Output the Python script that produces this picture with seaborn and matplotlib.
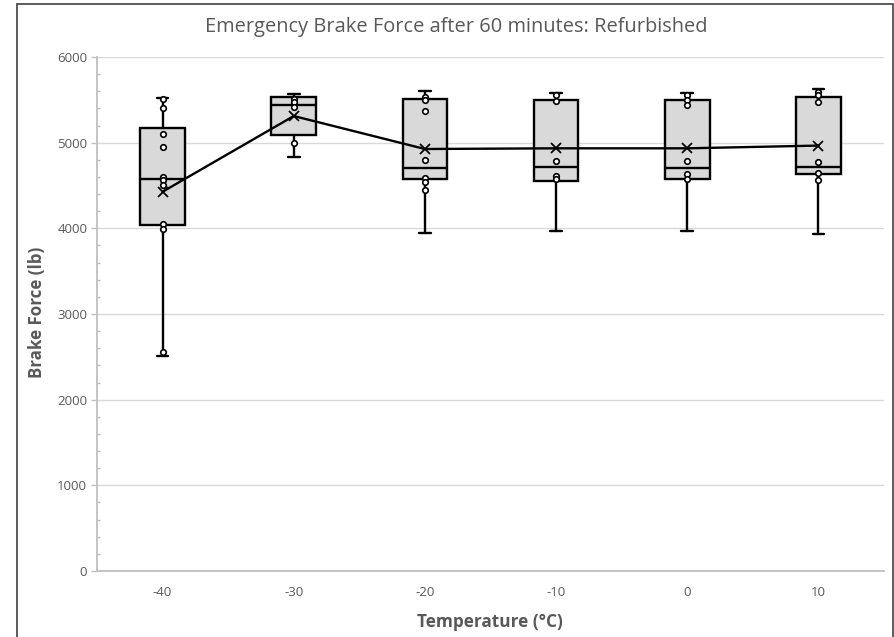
import numpy as np
import pandas as pd
import matplotlib
matplotlib.use("Agg")
import matplotlib.pyplot as plt
import seaborn as sns
from matplotlib.patches import Rectangle
from matplotlib.ticker import MultipleLocator

# ---------------- data ----------------
temperatures = ["-40", "-30", "-20", "-10", "0", "10"]
whisker_low = [2510, 4836, 3942, 3969, 3969, 3934]
q1_values = [4035, 5093, 4576, 4556, 4576, 4630]
median_values = [4576, 5445, 4700, 4713, 4709, 4713]
q3_values = [5171, 5535, 5510, 5502, 5498, 5537]
whisker_high = [5525, 5568, 5603, 5584, 5584, 5625]
mean_values = [4427, 5311, 4926, 4934, 4934, 4966]

points_m40 = [5510, 5401, 5097, 4945, 4603, 4564, 4502, 4050, 3992, 2560]
points_m30 = [5510, 5471, 5420, 4993]
points_m20 = [5537, 5498, 5365, 4797, 4591, 4537, 4444]
points_m10 = [5560, 5490, 4790, 4614, 4572]
points_0 = [5556, 5498, 5439, 4790, 4630, 4576]
points_10 = [5588, 5556, 5471, 4779, 4642, 4564]

title_text = "Emergency Brake Force after 60 minutes: Refurbished"
x_label = "Temperature (°C)"
y_label = "Brake Force (lb)"

# ---------------- styling ----------------
sns.set_theme(style="white")
plt.rcParams["font.family"] = ["Open Sans", "DejaVu Sans"]
text_gray = "#595959"
axis_gray = "#bfbfbf"
grid_gray = "#d9d9d9"

W, H = 895, 637
fig = plt.figure(figsize=(W / 100, H / 100), dpi=100)
ax = fig.add_axes([97 / W, 66 / H, 787 / W, 514 / H])

# boxes
stats = []
for i, t in enumerate(temperatures):
    stats.append(dict(whislo=whisker_low[i], q1=q1_values[i], med=median_values[i],
                      q3=q3_values[i], whishi=whisker_high[i], fliers=[], label=t))
ax.bxp(stats, positions=list(range(len(temperatures))), widths=0.34,
       capwidths=0.09, patch_artist=True, showfliers=False, showmeans=False,
       boxprops=dict(facecolor="#d9d9d9", edgecolor="black", linewidth=1.7),
       medianprops=dict(color="black", linewidth=1.7),
       whiskerprops=dict(color="black", linewidth=1.7),
       capprops=dict(color="black", linewidth=1.7))
n_lines_before = len(ax.lines)

# inner points
all_points = [points_m40, points_m30, points_m20, points_m10, points_0, points_10]
df = pd.DataFrame({
    "Temperature": [t for t, pts in zip(temperatures, all_points) for _ in pts],
    "Force": [v for pts in all_points for v in pts],
})
sns.stripplot(data=df, x="Temperature", y="Force", order=temperatures, jitter=False,
              color="white", edgecolor="black", linewidth=1.2, size=4.0, ax=ax,
              zorder=4)

# mean line
df_mean = pd.DataFrame({"Temperature": temperatures, "Mean": mean_values})
sns.pointplot(data=df_mean, x="Temperature", y="Mean", order=temperatures,
              color="black", markers="x", linestyles="-", errorbar=None,
              markersize=6.5, linewidth=1.7, ax=ax)
for ln in ax.lines[n_lines_before:]:
    ln.set_zorder(5)
for coll in ax.collections:
    coll.set_zorder(4)

# axes
ax.set_xlim(-0.5, len(temperatures) - 0.5)
ax.set_ylim(0, 6000)
ax.set_xticks(range(len(temperatures)))
ax.set_xticklabels(temperatures)
ax.yaxis.set_major_locator(MultipleLocator(1000))
ax.yaxis.set_minor_locator(MultipleLocator(200))
ax.set_xlabel("")
ax.set_ylabel("")
ax.grid(axis="y", which="major", color=grid_gray, linewidth=1.0, zorder=0)
ax.set_axisbelow(True)
for s in ["top", "right"]:
    ax.spines[s].set_visible(False)
for s in ["left", "bottom"]:
    ax.spines[s].set_color(axis_gray)
    ax.spines[s].set_linewidth(1.3)
ax.tick_params(axis="y", which="major", direction="out", length=4, width=1,
               color=axis_gray, labelcolor=text_gray, labelsize=9.5, pad=3, left=True)
ax.tick_params(axis="y", which="minor", direction="in", length=2.5, width=1,
               color=axis_gray, left=True)
ax.tick_params(axis="x", which="both", length=0, labelcolor=text_gray,
               labelsize=9.5, pad=11)

# texts
fig.text(456 / W, 1 - 27 / H, title_text, ha="center", va="center",
         fontsize=14.4, color=text_gray)
fig.text(490 / W, 1 - 622 / H, x_label, ha="center", va="center",
         fontsize=12.4, fontweight="bold", color=text_gray)
fig.text(37 / W, 1 - 312 / H, y_label, ha="center", va="center", rotation=90,
         fontsize=12.2, fontweight="bold", color=text_gray)

# chart border
fig.add_artist(Rectangle((17 / W, -0.01), (893 - 17) / W, (637 - 4) / H + 0.01,
                         transform=fig.transFigure, fill=False,
                         edgecolor="#404040", linewidth=1.2))

fig.savefig("out.png", dpi=100)
